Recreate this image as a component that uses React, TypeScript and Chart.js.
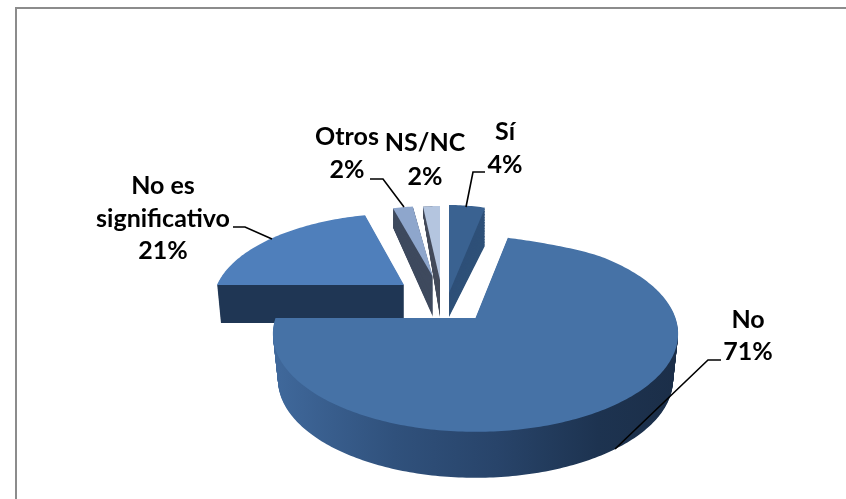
import React, { useEffect, useRef } from "react";
import { Chart, registerables } from "chart.js";

Chart.register(...registerables);

const categories = ["Sí", "No", "No es significativo", "Otros", "NS/NC"];
const shares = [4, 71, 21, 2, 2];
const labelLines = [["Sí"], ["No"], ["No es", "significativo"], ["Otros"], ["NS/NC"]];
const topColors = ["#3a6291", "#4672a6", "#4f7fbb", "#8ea6cc", "#b4c5df"];
const sideColors = ["#2e5078", "#2c4a70", "#1f3654", "#3f4a5e", "#454c5c"];

// 3D view of each exploded slice (how the flat pie is projected on the page)
const views = [
  { x: 449, y: 293, a: 145, b: 88, p: 0, q: 0, depth: 24, aEnd: 1, bEnd: 0.84 },
  { x: 475.5, y: 318, a: 200, b: 95.6, p: -0.16, q: 0.31, depth: 46, aEnd: 0.975, bEnd: 1 },
  { x: 404, y: 285, a: 187, b: 86, p: -0.2, q: 0, depth: 38, aEnd: 0.98, bEnd: 1 },
  { x: 433, y: 277, a: 161, b: 71, p: 0, q: 0, depth: 40, aEnd: 1, bEnd: 1.3 },
  { x: 440, y: 280, a: 136, b: 74, p: 0, q: 0, depth: 37, aEnd: 1, bEnd: 1.4 },
];
const drawOrder = [2, 3, 4, 0, 1];

const labelPlaces = [
  { x: 505, y: 132, gap: 33 },
  { x: 748, y: 320, gap: 32 },
  { x: 163, y: 186, gap: 32.5 },
  { x: 347, y: 137, gap: 33 },
  { x: 425, y: 143, gap: 34 },
];
const leaders = [
  [[466, 207], [473, 172], [485, 172]],
  [[615, 449], [708, 360], [721, 360]],
  [[272, 239], [245, 227], [233, 227]],
  [[404, 207], [383, 179], [370, 179]],
];

function tracePie(ctx: CanvasRenderingContext2D, arc: any, v: any, a: number, b: number, dy: number) {
  const map = (ang: number) => {
    const u = Math.cos(ang);
    const w = Math.sin(ang);
    const k = 1 + v.p * w;
    const t = Math.max(0, -w - 0.7) / 0.3;
    const pinch = 1 - v.q * t * t;
    return [v.x + (a * u * pinch) / k, v.y + dy + (b * w) / k];
  };
  ctx.beginPath();
  ctx.moveTo(v.x, v.y + dy);
  const n = Math.max(8, Math.ceil((arc.endAngle - arc.startAngle) * 60));
  for (let i = 0; i <= n; i++) {
    const [px, py] = map(arc.startAngle + ((arc.endAngle - arc.startAngle) * i) / n);
    ctx.lineTo(px, py);
  }
  ctx.closePath();
}

const pie3d = {
  id: "pie3d",
  beforeDatasetsDraw(chart: any) {
    const { ctx } = chart;
    const arcs = chart.getDatasetMeta(0).data;
    ctx.save();
    ctx.fillStyle = "#ffffff";
    ctx.fillRect(0, 0, chart.width, chart.height);
    ctx.fillStyle = "#8c8c8c";
    ctx.fillRect(15, 7, chart.width - 15, 2);
    ctx.fillRect(15, 7, 2, chart.height - 7);

    for (const i of drawOrder) {
      const arc = arcs[i];
      const v = views[i];
      let side: any = sideColors[i];
      if (i === 1) {
        side = ctx.createLinearGradient(272, 0, 680, 0);
        side.addColorStop(0, "#40699c");
        side.addColorStop(0.3, "#30517c");
        side.addColorStop(0.55, "#28446a");
        side.addColorStop(0.8, "#1d3350");
        side.addColorStop(1, "#1b2e48");
      }
      ctx.fillStyle = side;
      for (let d = v.depth; d >= 1; d--) {
        const t = d / v.depth;
        tracePie(ctx, arc, v, v.a * (1 + (v.aEnd - 1) * t), v.b * (1 + (v.bEnd - 1) * t), d);
        ctx.fill();
      }
      ctx.fillStyle = arc.options.backgroundColor;
      tracePie(ctx, arc, v, v.a, v.b, 0);
      ctx.fill();
    }
    ctx.restore();
    return false;
  },
  afterDraw(chart: any) {
    const { ctx } = chart;
    ctx.save();
    ctx.strokeStyle = "#000000";
    ctx.lineWidth = 1.6;
    for (const pts of leaders) {
      ctx.beginPath();
      pts.forEach(([x, y], i) => (i ? ctx.lineTo(x, y) : ctx.moveTo(x, y)));
      ctx.stroke();
    }
    ctx.fillStyle = "#000000";
    ctx.font = 'bold 25px Lato';
    ctx.textAlign = "center";
    ctx.textBaseline = "middle";
    categories.forEach((_, i) => {
      const place = labelPlaces[i];
      const lines = [...labelLines[i], `${shares[i]}%`];
      lines.forEach((line, j) => ctx.fillText(line, place.x, place.y + j * place.gap));
    });
    ctx.restore();
  },
};

export default function App() {
  const ref = useRef<HTMLCanvasElement>(null);
  useEffect(() => {
    document.body.style.margin = "0";
    const chart = new Chart(ref.current!, {
      type: "pie",
      data: {
        labels: categories,
        datasets: [{ data: shares, backgroundColor: topColors, borderWidth: 0 }],
      },
      options: {
        responsive: false,
        animation: false,
        plugins: { legend: { display: false }, tooltip: { enabled: false } },
      },
      plugins: [pie3d],
    } as any);
    return () => chart.destroy();
  }, []);
  return <canvas ref={ref} width={846} height={499} style={{ display: "block" }} />;
}
